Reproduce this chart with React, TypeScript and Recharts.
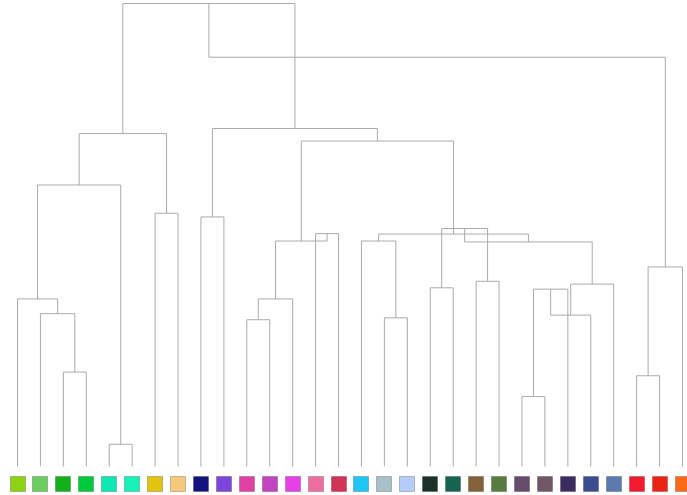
import { ComposedChart, Line, XAxis, YAxis } from "recharts";

// leaf colours, left to right
const leafColors = [
  "#8cd316", "#6bcf60", "#14b01c", "#00c93b", "#0de8b4", "#18f2b9",
  "#e1c311", "#f5c87d", "#141480", "#7c45dc", "#e040a4", "#c244c0",
  "#e840e8", "#ec6fa0", "#d23458", "#20c6f4", "#a7c0ca", "#b5cbf8",
  "#1b3129", "#146451", "#85633a", "#577b40", "#664c6b", "#715666",
  "#3b2b5f", "#3b4c8f", "#5b7aae", "#f3192f", "#eb2415", "#fa6a18",
];

// merges: [left child, right child, height]; ids < 30 are leaves, 30+ are earlier merges
const merges: [number, number, number][] = [
  [2, 3, 2.04],
  [1, 30, 3.3],
  [0, 31, 3.62],
  [4, 5, 0.48],
  [32, 33, 6.08],
  [6, 7, 5.47],
  [34, 35, 7.19],
  [8, 9, 5.39],
  [10, 11, 3.17],
  [38, 12, 3.62],
  [13, 14, 5.03],
  [39, 40, 4.87],
  [16, 17, 3.21],
  [15, 42, 4.87],
  [18, 19, 3.86],
  [20, 21, 4.0],
  [44, 45, 5.14],
  [22, 23, 1.51],
  [47, 24, 3.83],
  [48, 25, 3.27],
  [49, 26, 3.94],
  [46, 50, 4.85],
  [43, 51, 5.02],
  [41, 52, 7.03],
  [37, 53, 7.3],
  [36, 54, 10.0],
  [27, 28, 1.96],
  [56, 29, 4.31],
  [55, 57, 8.84],
];

const leafIdx = leafColors.map((_, i) => i);

// turn each merge into a U-shaped path of 4 points
function buildLinks() {
  const pos: number[] = [...leafIdx];
  const hgt: number[] = leafIdx.map(() => 0);
  return merges.map(([a, b, h]) => {
    const pts = [
      { x: pos[a], y: hgt[a] },
      { x: pos[a], y: h },
      { x: pos[b], y: h },
      { x: pos[b], y: hgt[b] },
    ];
    pos.push((pos[a] + pos[b]) / 2);
    hgt.push(h);
    return pts;
  });
}

const links = buildLinks();

const LeafSwatch = (props: any) => {
  const { x, y, payload } = props;
  const c = leafColors[payload.value];
  return (
    <rect
      x={Math.round(x) - 8 + 0.5}
      y={Math.round(y) + 0.5}
      width={15}
      height={15}
      fill={c}
      stroke="rgba(0,0,0,0.22)"
    />
  );
};

export default function App() {
  return (
    <div style={{ position: "absolute", left: 0, top: 0 }}>
      <ComposedChart
        width={687}
        height={495}
        margin={{ top: 3.5, right: 4.5, left: 17.5, bottom: 0 }}
      >
        <XAxis
          type="number"
          dataKey="x"
          domain={[0, leafColors.length - 1]}
          ticks={leafIdx}
          interval={0}
          height={28.5}
          axisLine={false}
          tickLine={false}
          tickSize={0}
          tickMargin={9}
          tick={<LeafSwatch />}
        />
        <YAxis type="number" dataKey="y" domain={[0, 10]} hide />
        {links.map((pts, i) => (
          <Line
            key={i}
            data={pts}
            dataKey="y"
            type="linear"
            stroke="#aaaaaa"
            strokeWidth={1}
            dot={false}
            activeDot={false}
            isAnimationActive={false}
          />
        ))}
      </ComposedChart>
    </div>
  );
}
